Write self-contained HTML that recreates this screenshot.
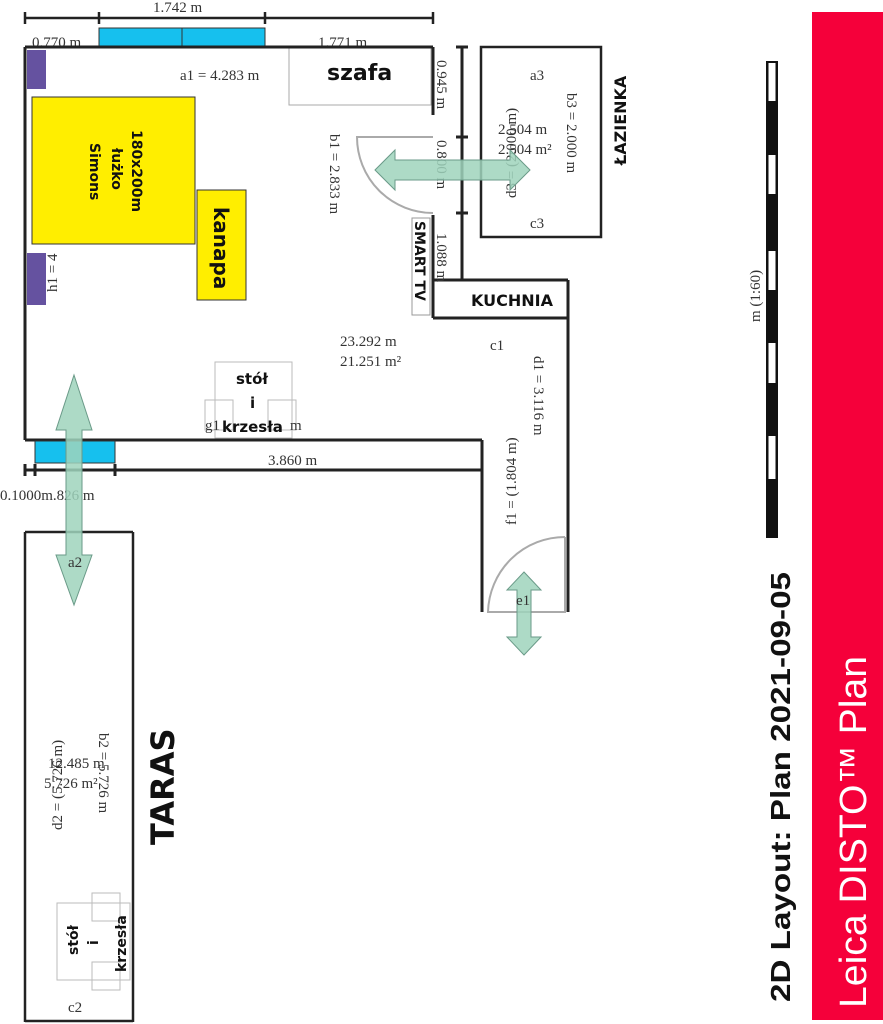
<!DOCTYPE html>
<html><head><meta charset="utf-8"><style>
html,body{margin:0;padding:0;background:#fff;width:883px;height:1024px;overflow:hidden}
svg{display:block}
.s{font-family:"Liberation Serif",serif;font-size:15px;fill:#333}
.b{font-family:"DejaVu Sans","Liberation Sans",sans-serif;font-weight:bold;fill:#111}
</style></head><body>
<svg width="883" height="1024" viewBox="0 0 883 1024" xmlns="http://www.w3.org/2000/svg">
<rect x="812" y="12" width="71" height="1008" fill="#f5003a"/>
<text transform="translate(866,1008) rotate(-90)" font-family="Liberation Sans,sans-serif" font-size="38" fill="#fff" textLength="352" lengthAdjust="spacingAndGlyphs">Leica DISTO™ Plan</text>
<text transform="translate(790,1002) rotate(-90)" font-family="Liberation Sans,sans-serif" font-weight="bold" font-size="28" fill="#111" textLength="430" lengthAdjust="spacingAndGlyphs">2D Layout: Plan  2021-09-05</text>
<rect x="766" y="61" width="12" height="477" fill="#111"/>
<g fill="#fff"><rect x="768.5" y="63" width="7" height="38"/><rect x="768.5" y="155" width="7" height="39"/><rect x="768.5" y="251" width="7" height="39"/><rect x="768.5" y="343" width="7" height="40"/><rect x="768.5" y="436" width="7" height="43"/></g>
<text transform="translate(760,322) rotate(-90)" class="s" font-size="12">m (1:60)</text>

<g stroke="#222" stroke-width="2.5" fill="none">
<line x1="25" y1="18" x2="433" y2="18"/>
<line x1="25" y1="12" x2="25" y2="24"/><line x1="99" y1="12" x2="99" y2="24"/><line x1="265" y1="12" x2="265" y2="24"/><line x1="433" y1="12" x2="433" y2="24"/>
</g>
<rect x="99" y="28" width="166" height="19" fill="#16c0ee" stroke="#333" stroke-width="1"/>
<line x1="182" y1="28" x2="182" y2="47" stroke="#333"/>
<text x="153" y="12" class="s">1.742 m</text>
<text x="32" y="47" class="s">0.770 m</text>
<text x="318" y="47" class="s">1.771 m</text>

<rect x="27" y="50" width="19" height="39" fill="#6552a0"/>
<rect x="27" y="253" width="19" height="52" fill="#6552a0"/>
<rect x="32" y="97" width="163" height="147" fill="#ffee00" stroke="#333" stroke-width="1"/>
<text transform="translate(132,130) rotate(90)" class="b" font-size="14">180x200m</text>
<text transform="translate(112,148) rotate(90)" class="b" font-size="14">łużko</text>
<text transform="translate(90,143) rotate(90)" class="b" font-size="14">Simons</text>
<rect x="197" y="190" width="49" height="110" fill="#ffee00" stroke="#333" stroke-width="1"/>
<text transform="translate(214,207) rotate(90)" class="b" font-size="20">kanapa</text>
<rect x="289" y="48" width="142" height="57" fill="#fff" stroke="#aaa"/>
<text x="327" y="80" class="b" font-size="22">szafa</text>
<text x="180" y="80" class="s" font-size="16">a1 = 4.283 m</text>
<text transform="translate(330,134) rotate(90)" class="s" font-size="16">b1 = 2.833 m</text>
<text transform="translate(57,292) rotate(-90)" class="s">h1 = 4</text>

<g stroke="#222" stroke-width="3" fill="none">
<line x1="25" y1="47" x2="433" y2="47"/>
<line x1="25" y1="47" x2="25" y2="440"/>
<line x1="433" y1="47" x2="433" y2="115"/>
<line x1="433" y1="215" x2="433" y2="318"/>
<line x1="433" y1="280" x2="568" y2="280"/>
<line x1="433" y1="318" x2="568" y2="318"/>
<line x1="568" y1="280" x2="568" y2="612"/>
<line x1="25" y1="440" x2="482" y2="440"/>
<line x1="482" y1="440" x2="482" y2="612"/>
<line x1="25" y1="470" x2="482" y2="470"/>
<line x1="462" y1="47" x2="462" y2="280"/>
<line x1="456" y1="47" x2="468" y2="47"/><line x1="456" y1="137" x2="468" y2="137"/><line x1="456" y1="213" x2="468" y2="213"/>
<line x1="25" y1="464" x2="25" y2="476"/><line x1="35" y1="464" x2="35" y2="476"/><line x1="115" y1="464" x2="115" y2="476"/>
<rect x="481" y="47" width="120" height="190" stroke-width="2.5"/>
<line x1="25" y1="532" x2="133" y2="532" stroke-width="2.5"/>
<line x1="25" y1="532" x2="25" y2="1022" stroke-width="2.5"/>
<line x1="133" y1="532" x2="133" y2="1022" stroke-width="2.5"/>
<line x1="25" y1="1021" x2="133" y2="1021" stroke-width="2.5"/>
</g>
<g stroke="#aaa" stroke-width="2" fill="none">
<path d="M433 137 L357 137 A76 76 0 0 0 433 213"/>
<path d="M565 537 L565 612 L488 612 A77 77 0 0 1 565 537"/>
</g>
<text transform="translate(437,60) rotate(90)" class="s">0.945 m</text>
<text transform="translate(437,140) rotate(90)" class="s">0.800 m</text>
<text transform="translate(437,233) rotate(90)" class="s">1.088 m</text>
<rect x="412" y="218" width="18" height="97" fill="#fff" stroke="#999"/>
<text transform="translate(415,221) rotate(90)" class="b" font-size="14">SMART TV</text>
<text x="471" y="306" class="b" font-size="16">KUCHNIA</text>
<text transform="translate(626,165) rotate(-90)" class="b" font-size="16">ŁAZIENKA</text>
<text x="530" y="80" class="s">a3</text>
<text x="530" y="228" class="s">c3</text>
<text x="498" y="134" class="s">2.504 m</text>
<text x="498" y="154" class="s">2.504 m²</text>
<text transform="translate(567,93) rotate(90)" class="s">b3 = 2.000 m</text>
<text transform="translate(516,198) rotate(-90)" class="s">d3 = (2.000 m)</text>
<text x="340" y="346" class="s">23.292 m</text>
<text x="340" y="366" class="s">21.251 m²</text>
<text x="490" y="350" class="s">c1</text>
<text transform="translate(534,356) rotate(90)" class="s">d1 = 3.116 m</text>
<text transform="translate(516,525) rotate(-90)" class="s">f1 = (1.804 m)</text>
<rect x="215" y="362" width="77" height="76" fill="#fff" stroke="#bbb"/>
<rect x="205" y="400" width="28" height="30" fill="none" stroke="#bbb"/>
<rect x="268" y="400" width="28" height="30" fill="none" stroke="#bbb"/>
<text x="205" y="430" class="s">g1</text><text x="290" y="430" class="s">m</text>
<text x="236" y="384" class="b" font-size="15">stół</text>
<text x="250" y="408" class="b" font-size="15">i</text>
<text x="222" y="432" class="b" font-size="15">krzesła</text>
<rect x="35" y="441" width="80" height="22" fill="#16c0ee" stroke="#333"/>
<text x="268" y="465" class="s">3.860 m</text>
<text x="0" y="500" class="s">0.1000m.826 m</text>
<g fill="#9fd4bc" fill-opacity="0.85" stroke="#6a9a88" stroke-width="1">
<polygon points="375,170 395,150 395,160 510,160 510,150 530,170 510,190 510,180 395,180 395,190"/>
<polygon points="74,375 92,430 82,430 82,555 92,555 74,605 56,555 66,555 66,430 56,430"/>
<polygon points="524,572 541,590 531,590 531,637 541,637 524,655 507,637 517,637 517,590 507,590"/>
</g>
<text x="68" y="567" class="s">a2</text>
<text x="516" y="605" class="s" fill="#777">e1</text>
<text transform="translate(174,845) rotate(-90)" class="b" font-size="32" font-family="Liberation Sans,sans-serif">TARAS</text>
<text transform="translate(62,830) rotate(-90)" class="s">d2 = (5.726 m)</text>
<text x="48" y="768" class="s">12.485 m</text>
<text x="44" y="788" class="s">5.726 m²</text>
<text transform="translate(99,733) rotate(90)" class="s">b2 = 5.726 m</text>
<rect x="57" y="903" width="73" height="77" fill="none" stroke="#bbb"/>
<rect x="92" y="893" width="28" height="28" fill="none" stroke="#bbb"/>
<rect x="92" y="962" width="28" height="28" fill="none" stroke="#bbb"/>
<text transform="translate(78,955) rotate(-90)" class="b" font-size="14">stół</text>
<text transform="translate(98,945) rotate(-90)" class="b" font-size="14">i</text>
<text transform="translate(126,972) rotate(-90)" class="b" font-size="14">krzesła</text>
<text x="68" y="1012" class="s">c2</text>
</svg>
</body></html>
